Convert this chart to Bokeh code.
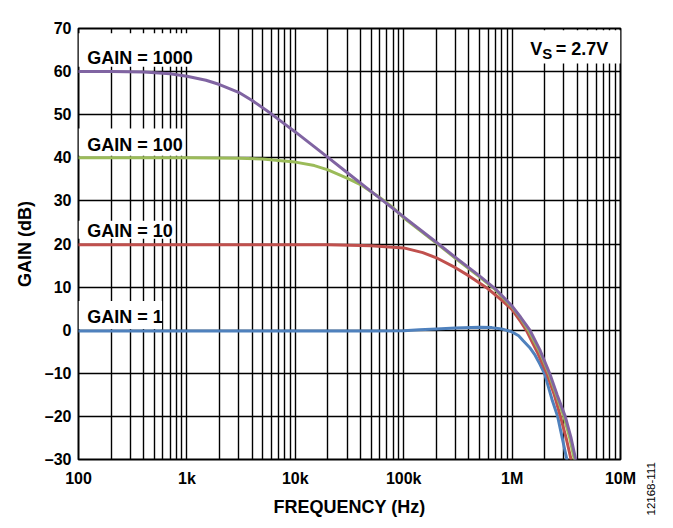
from bokeh.plotting import figure
from bokeh.models import Range1d, FixedTicker, Label, BoxAnnotation
from bokeh.layouts import row
from bokeh.embed import file_html
from bokeh.resources import INLINE

# ---- data ----
freq_g1000 = [100, 200, 400, 700, 1e3, 1.5e3, 2e3, 3e3, 4e3, 6e3, 8e3, 1e4, 2e4, 3e4, 5e4,
              1e5, 2e5, 3e5, 5e5, 7e5, 1e6, 1.2e6, 1.46e6, 1.8e6, 2.22e6, 2.6e6, 3.09e6, 3.5e6, 3.86e6]
gain_g1000 = [60.0, 60.0, 59.9, 59.5, 58.9, 58.0, 57.0, 55.2, 53.3, 50.2, 47.8, 46.0, 40.1, 36.6, 32.2,
              26.3, 20.4, 16.9, 12.6, 9.6, 5.6, 3.0, 0.0, -4.5, -10.0, -15.0, -20.0, -25.0, -30.0]

freq_g100 = [100, 1e3, 3e3, 5e3, 7e3, 1e4, 1.5e4, 2e4, 3e4, 4e4, 6e4, 8e4, 1e5, 2e5, 3e5, 5e5,
             7e5, 1e6, 1.2e6, 1.43e6, 1.8e6, 2.18e6, 2.6e6, 3.0e6, 3.4e6, 3.75e6]
gain_g100 = [40.0, 40.0, 39.9, 39.7, 39.4, 39.0, 38.2, 37.2, 35.3, 33.8, 30.8, 28.4, 26.1, 20.2, 16.7, 12.4,
             9.4, 5.4, 2.8, -0.2, -5.0, -10.0, -15.5, -20.0, -25.0, -30.0]

freq_g10 = [100, 1e3, 1e4, 2e4, 5e4, 1e5, 1.5e5, 2e5, 3e5, 4e5, 6e5, 8e5, 1e6, 1.2e6, 1.35e6,
            1.7e6, 2.09e6, 2.45e6, 2.79e6, 3.15e6, 3.5e6]
gain_g10 = [19.8, 19.8, 19.8, 19.8, 19.6, 19.1, 18.0, 16.8, 14.5, 12.6, 9.6, 7.0, 4.8, 2.0, 0.0,
            -5.0, -10.0, -15.0, -20.0, -25.0, -30.0]

freq_g1 = [100, 1e3, 1e4, 5e4, 1e5, 1.4e5, 2e5, 3e5, 5e5, 6.5e5, 8e5, 1e6, 1.15e6, 1.26e6,
           1.45e6, 1.63e6, 1.8e6, 2e6, 2.33e6, 2.63e6, 2.9e6, 3.2e6]
gain_g1 = [-0.2, -0.2, -0.2, -0.2, -0.1, 0.1, 0.3, 0.5, 0.7, 0.6, 0.3, -0.4, -1.3, -2.4,
           -4.0, -5.8, -7.8, -10.2, -16.0, -20.0, -25.0, -30.0]

x_ticks = [1e2, 1e3, 1e4, 1e5, 1e6, 1e7]
x_tick_labels = ["100", "1k", "10k", "100k", "1M", "10M"]
y_ticks = [-30, -20, -10, 0, 10, 20, 30, 40, 50, 60, 70]
y_tick_labels = ["–30", "–20", "–10", "0", "10", "20", "30", "40", "50", "60", "70"]

FONT = "Liberation Sans"

p = figure(width=640, height=520, x_axis_type="log",
           x_range=Range1d(1e2, 1e7), y_range=Range1d(-30, 70),
           output_backend="svg", toolbar_location=None,
           min_border_left=78, min_border_right=20, min_border_top=28, min_border_bottom=61)
p.frame_align = False
p.background_fill_color = "white"
p.border_fill_color = "white"
p.outline_line_color = "black"
p.outline_line_width = 2

minor = [m * d for d in [1e2, 1e3, 1e4, 1e5, 1e6] for m in range(2, 10)]
p.xaxis.ticker = FixedTicker(ticks=x_ticks, minor_ticks=minor)
p.yaxis.ticker = FixedTicker(ticks=y_ticks)
p.xaxis.major_label_overrides = {t: l for t, l in zip(x_ticks, x_tick_labels)}
p.yaxis.major_label_overrides = {t: l for t, l in zip(y_ticks, y_tick_labels)}

for ax in (p.xaxis, p.yaxis):
    ax.major_tick_out = 0
    ax.major_tick_in = 0
    ax.minor_tick_out = 0
    ax.minor_tick_in = 0
    ax.axis_line_color = None
    ax.major_label_text_font = FONT
    ax.major_label_text_font_style = "bold"
    ax.major_label_text_font_size = "16px"
    ax.major_label_text_color = "black"
    ax.axis_label_text_font = FONT
    ax.axis_label_text_font_style = "bold"
    ax.axis_label_text_font_size = "18px"
    ax.axis_label_text_color = "black"

p.xaxis.axis_label = "FREQUENCY (Hz)"
p.yaxis.axis_label = "GAIN (dB)"
p.xaxis.major_label_standoff = 10
p.yaxis.major_label_standoff = 7
p.xaxis.axis_label_standoff = 7
p.yaxis.axis_label_standoff = 7

p.xgrid.grid_line_color = "black"
p.xgrid.grid_line_width = 1.4
p.xgrid.minor_grid_line_color = "black"
p.xgrid.minor_grid_line_width = 1.4
p.ygrid.grid_line_color = "black"
p.ygrid.grid_line_width = 1.4

# white backgrounds behind the text labels (drawn over grid, under curves)
for l, r, b, t in [(100, 1100, 61.1, 68.9), (100, 930, 40.5, 46.8),
                   (100, 740, 21.2, 25.4), (100, 590, 0.3, 6.8),
                   (1.07e6, 1e7, 61.9, 69.6)]:
    p.add_layout(BoxAnnotation(left=l, right=r, bottom=b, top=t, fill_color="white",
                               fill_alpha=1.0, line_color=None, level="underlay"))

series = [
    (freq_g1, gain_g1, "#4F81BD"),
    (freq_g10, gain_g10, "#C0504D"),
    (freq_g100, gain_g100, "#9BBB59"),
    (freq_g1000, gain_g1000, "#8064A2"),
]
for f, g, c in series:
    p.line(f, g, line_color=c, line_width=3, line_join="round", line_cap="round")

def lab(fig, x, y, text, size="18px", style="bold", **kw):
    l = Label(x=x, y=y, text=text, text_font=FONT, text_font_style=style,
              text_font_size=size, text_color="black", **kw)
    fig.add_layout(l)
    return l

lab(p, 120.3, 63.2, "GAIN = 1000", text_baseline="alphabetic")
lab(p, 120.3, 43.0, "GAIN = 100", text_baseline="alphabetic")
lab(p, 120.3, 23.0, "GAIN = 10", text_baseline="alphabetic")
lab(p, 120.3, 3.1, "GAIN = 1", text_baseline="alphabetic")

# V_S = 2.7V
lab(p, 1.469e6, 65.3, "V", text_baseline="alphabetic")
lab(p, 1.469e6, 65.3, "S", size="15px", x_offset=12, y_offset=-4.6, text_baseline="alphabetic")
lab(p, 1.469e6, 65.3, " = 2.7V", x_offset=25.5, text_baseline="alphabetic")

# narrow side strip carrying the rotated figure code
side = figure(width=25, height=520, output_backend="svg", toolbar_location=None,
              x_range=Range1d(0, 25), y_range=Range1d(0, 520),
              x_axis_location=None, y_axis_location=None, min_border=0)
side.frame_align = False
side.grid.visible = False
side.outline_line_color = None
side.background_fill_color = "white"
side.border_fill_color = "white"
lab(side, 10, 5, "12168-111", size="11.5px", style="normal",
    angle=1.5707963, text_align="left", text_baseline="middle")

layout = row(p, side)
open("out.html", "w").write(file_html(layout, INLINE))
